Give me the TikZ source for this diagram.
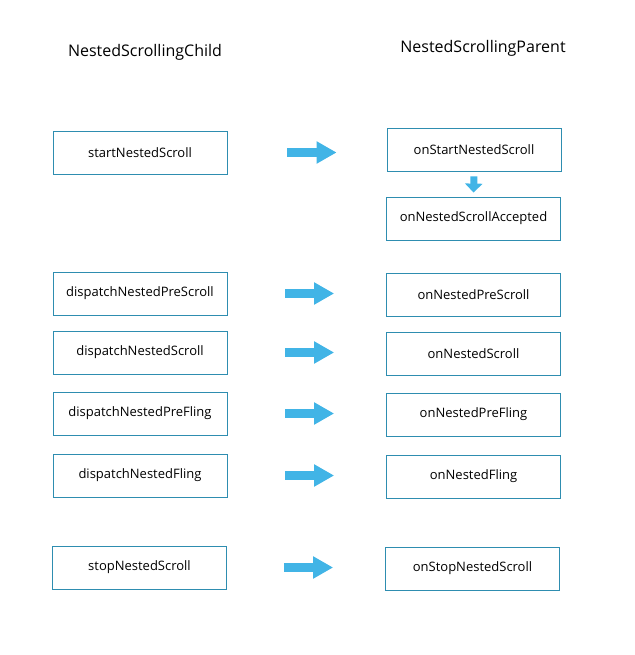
\documentclass[tikz,border=0pt]{standalone}
\usepackage{fontspec}
\setmainfont{Open Sans}
\usetikzlibrary{arrows.meta}
\definecolor{boxc}{HTML}{2E8DB0}
\definecolor{arrc}{HTML}{41B4E6}
\begin{document}
\begin{tikzpicture}[x=1pt,y=-1pt,
  box/.style={draw=boxc,line width=0.8pt,minimum width=174pt,minimum height=43pt,font=\fontsize{13}{15}\selectfont,inner sep=0pt},
  bigarrow/.style={draw=arrc,line width=9pt,-{Triangle[length=20pt,width=21pt]}},
  smallarrow/.style={draw=arrc,line width=7pt,-{Triangle[length=9pt,width=17pt]}},
  title/.style={font=\fontsize{16}{18}\selectfont}]
\useasboundingbox (0,0) rectangle (634,655);
\node[title] (tc) at (145,52) {NestedScrollingChild};
\node[title] (tp) at (483,48) {NestedScrollingParent};
\node[box] (c1) at (140,152.5) {startNestedScroll};
\node[box] (c2) at (140,293.5) {dispatchNestedPreScroll};
\node[box] (c3) at (140,352.5) {dispatchNestedScroll};
\node[box] (c4) at (140,413.5) {dispatchNestedPreFling};
\node[box] (c5) at (140,475.5) {dispatchNestedFling};
\node[box] (c6) at (139.5,567.5) {stopNestedScroll};
\node[box] (p1) at (474,149.5) {onStartNestedScroll};
\node[box] (p1b) at (473.5,218.5) {onNestedScrollAccepted};
\node[box] (p2) at (473.5,294.5) {onNestedPreScroll};
\node[box] (p3) at (473.5,353.5) {onNestedScroll};
\node[box] (p4) at (473.5,414.5) {onNestedPreFling};
\node[box] (p5) at (473.5,476.5) {onNestedFling};
\node[box] (p6) at (472.5,568.5) {onStopNestedScroll};
\draw[bigarrow,shorten <=60pt,shorten >=50pt] (c1.east) -- (c1.east -| p1.west);
\draw[bigarrow,shorten <=58pt,shorten >=52pt] (c2.east) -- (c2.east -| p2.west);
\draw[bigarrow,shorten <=58pt,shorten >=52pt] (c3.east) -- (c3.east -| p3.west);
\draw[bigarrow,shorten <=58pt,shorten >=52pt] (c4.east) -- (c4.east -| p4.west);
\draw[bigarrow,shorten <=58pt,shorten >=52pt] (c5.east) -- (c5.east -| p5.west);
\draw[bigarrow,shorten <=57pt,shorten >=52pt] (c6.east) -- (c6.east -| p6.west);
\draw[smallarrow,shorten <=5pt,shorten >=4pt] (p1.south) -- (p1b.north);
\end{tikzpicture}
\end{document}
